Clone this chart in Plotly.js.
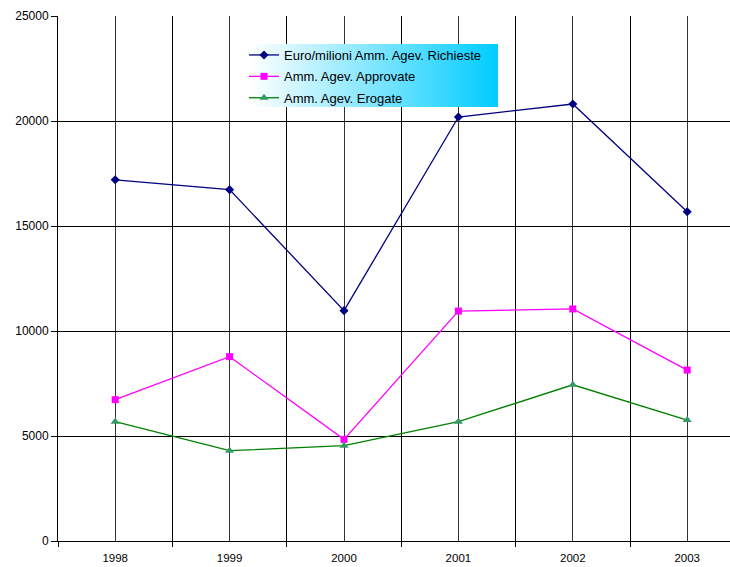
<!DOCTYPE html>
<html>
<head>
<meta charset="utf-8">
<script src="https://cdn.plot.ly/plotly-3.0.1.min.js"></script>
<style>html,body{margin:0;padding:0;background:#fff;}#chart{width:730px;height:567px;}</style>
</head>
<body>
<div id="chart"></div>
<script>
var years = ['1998', '1999', '2000', '2001', '2002', '2003'];
var richieste = [17200, 16730, 10970, 20190, 20810, 15680];
var approvate = [6730, 8780, 4840, 10950, 11050, 8140];
var erogate = [5680, 4300, 4540, 5680, 7440, 5760];
var seriesNames = ['Euro/milioni Amm. Agev. Richieste', 'Amm. Agev. Approvate', 'Amm. Agev. Erogate'];

var idx = years.map(function (_, i) { return i; });
var bounds = [];
for (var b = 0; b <= years.length; b++) bounds.push(b - 0.5);

var traces = [
  {x: idx, y: richieste, name: seriesNames[0], legendgroup: 'a', type: 'scatter', mode: 'lines+markers',
   line: {color: '#000080', width: 1.3}, marker: {symbol: 'diamond', size: 7, color: '#000080'}},
  {x: idx, y: approvate, name: seriesNames[1], legendgroup: 'b', type: 'scatter', mode: 'lines+markers',
   line: {color: '#FF00FF', width: 1.3}, marker: {symbol: 'square', size: 7, color: '#FF00FF'}},
  {x: idx, y: erogate, name: seriesNames[2], legendgroup: 'c', type: 'scatter', mode: 'lines+markers',
   line: {color: '#008000', width: 1.3}, marker: {symbol: 'triangle-up', size: 8, color: '#339966'}}
];

var grad = 'data:image/svg+xml;charset=utf-8,' + encodeURIComponent(
  '<svg xmlns="http://www.w3.org/2000/svg" width="248" height="63" preserveAspectRatio="none">' +
  '<defs><linearGradient id="g" x1="0" y1="0" x2="1" y2="0">' +
  '<stop offset="0" stop-color="#ffffff"/><stop offset="1" stop-color="#00ccff"/></linearGradient></defs>' +
  '<rect width="248" height="63" fill="url(#g)"/></svg>');

var layout = {
  width: 730, height: 567,
  margin: {l: 58, r: 0, t: 16, b: 26},
  paper_bgcolor: '#ffffff', plot_bgcolor: '#ffffff',
  font: {family: 'Liberation Sans, Arial, sans-serif', size: 11, color: '#000'},
  showlegend: true,
  legend: {x: 0.2768, y: 0.9543, xanchor: 'left', yanchor: 'top', bgcolor: 'rgba(0,0,0,0)',
           font: {size: 13, color: '#000'}, traceorder: 'grouped', tracegroupgap: 1.5},
  xaxis: {
    range: [-0.5, 5.374], tickmode: 'array', tickvals: idx, ticktext: years,
    ticks: '', showgrid: true, gridcolor: '#333', gridwidth: 1, ticklabelstandoff: 6,
    showline: true, linecolor: '#000', linewidth: 1, zeroline: false, fixedrange: true,
    minor: {tickmode: 'array', tickvals: bounds, ticks: 'outside', ticklen: 5, tickcolor: '#000',
            showgrid: true, gridcolor: '#000', gridwidth: 1},
    tickfont: {size: 11.5}
  },
  yaxis: {
    range: [0, 25000], tickmode: 'linear', tick0: 0, dtick: 5000, tickformat: 'd',
    ticks: 'outside', ticklen: 6, tickcolor: '#000',
    showgrid: true, gridcolor: '#000', gridwidth: 1,
    showline: true, linecolor: '#000', linewidth: 1, zeroline: false, fixedrange: true,
    tickfont: {size: 12}
  },
  images: [{source: grad, xref: 'paper', yref: 'paper', x: 0.2857, y: 0.9467,
            sizex: 0.369, sizey: 0.12, xanchor: 'left', yanchor: 'top',
            sizing: 'stretch', layer: 'above'}]
};

Plotly.newPlot('chart', traces, layout, {displayModeBar: false, staticPlot: true});
</script>
</body>
</html>
